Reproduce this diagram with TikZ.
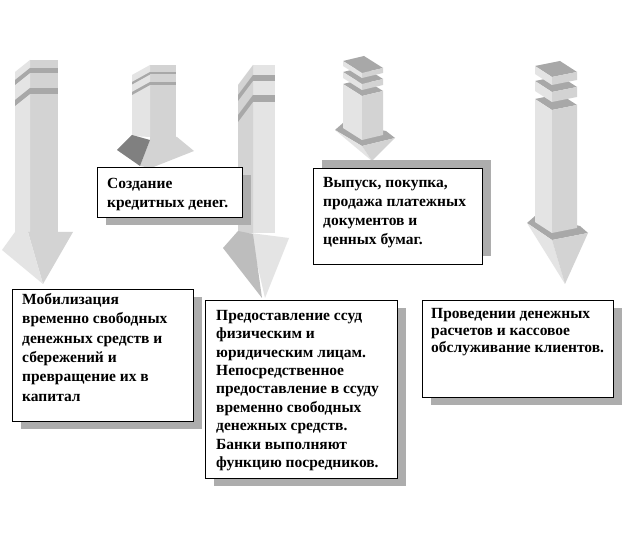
\documentclass[tikz,border=0pt]{standalone}
\usepackage{fontspec}
\setmainfont{Liberation Serif}
\usetikzlibrary{shadows}
\definecolor{aLight}{HTML}{E4E4E4}
\definecolor{aMid}{HTML}{D3D3D3}
\definecolor{aStripe}{HTML}{A8A8A8}
\definecolor{aDark}{HTML}{808080}
\definecolor{aHead}{HTML}{BDBDBD}
\definecolor{shcol}{HTML}{ADADAD}
\newcommand\mytier[7]{% L M R y h d1 d2
  \pgfmathsetmacro\tA{#4}\pgfmathsetmacro\tB{#4+#6}\pgfmathsetmacro\tC{#4+#6-#7}
  \pgfmathsetmacro\tD{#4-#7}\pgfmathsetmacro\tX{#1+#3-#2}
  \pgfmathsetmacro\tAh{#4+#5}\pgfmathsetmacro\tBh{#4+#6+#5}\pgfmathsetmacro\tCh{#4+#6-#7+#5}
  \fill[aStripe] (#1,\tA) -- (#2,\tB) -- (#3,\tC) -- (\tX,\tD) -- cycle;
  \fill[aLight] (#1,\tA) -- (#2,\tB) -- (#2,\tBh) -- (#1,\tAh) -- cycle;
  \fill[aMid] (#2,\tB) -- (#3,\tC) -- (#3,\tCh) -- (#2,\tBh) -- cycle;
}
\tikzset{
  boxsh/.style={draw, line width=1pt, fill=white, inner sep=0pt, anchor=north west,
    drop shadow={shadow xshift=8pt, shadow yshift=-8pt, fill=shcol, opacity=1}},
  boxup/.style={draw, line width=1pt, fill=white, inner sep=0pt, anchor=north west,
    drop shadow={shadow xshift=8pt, shadow yshift=8pt, fill=shcol, opacity=1}},
  txt/.style={inner sep=0pt, anchor=north west, align=left}
}
\begin{document}
\begin{tikzpicture}[x=1pt,y=-1pt]
\useasboundingbox[fill=white] (0,0) rectangle (625,540);
% ---------- arrow 1
\fill[aMid] (30,60) -- (58,60) -- (58,232) -- (30,232) -- cycle;
\fill[aLight] (15,72) -- (30,60) -- (30,232) -- (15,232) -- cycle;
\fill[aStripe] (30,68) rectangle (58,73);
\fill[aStripe] (30,88) rectangle (58,94);
\fill[aStripe] (15,80) -- (30,68) -- (30,73) -- (15,85) -- cycle;
\fill[aStripe] (15,100) -- (30,88) -- (30,94) -- (15,106) -- cycle;
\fill[aMid] (28,232) -- (73,232) -- (43,284) -- cycle;
\fill[aLight] (15,232) -- (28,232) -- (43,284) -- (2,250) -- cycle;
% ---------- arrow 2
\fill[aMid] (150,65) -- (176,65) -- (176,137) -- (150,137) -- cycle;
\fill[aLight] (132,75) -- (150,65) -- (150,137) -- (132,136) -- cycle;
\fill[aStripe] (150,72) rectangle (176,74.5);
\fill[aStripe] (150,82) rectangle (176,85);
\fill[aStripe] (132,82) -- (150,72) -- (150,74.5) -- (132,84.5) -- cycle;
\fill[aStripe] (132,92) -- (150,82) -- (150,85) -- (132,95) -- cycle;
\fill[aMid] (150,137) -- (177,137) -- (194,151) -- (151,168) -- (140,166) -- (150,140) -- cycle;
\fill[aDark] (132,135) -- (150,140) -- (140,166) -- (117,150) -- cycle;
% ---------- arrow 3
\fill[aLight] (253,65) -- (275,65) -- (275,233) -- (253,233) -- cycle;
\fill[aMid] (238,85) -- (253,65) -- (253,233) -- (238,233) -- cycle;
\fill[aStripe] (253,75) rectangle (275,81);
\fill[aStripe] (253,95) rectangle (275,102);
\fill[aStripe] (238,95) -- (253,75) -- (253,81) -- (238,101) -- cycle;
\fill[aStripe] (238,115) -- (253,95) -- (253,102) -- (238,122) -- cycle;
\fill[aLight] (250,233) -- (289,238) -- (265,298) -- cycle;
\fill[aHead] (238,231) -- (253,234) -- (262,298) -- (223,248) -- cycle;
% ---------- arrow 4
\fill[aStripe] (335,130) -- (362,146) -- (395,138) -- (386,131) -- (343,123) -- cycle;
\fill[aLight] (335,130) -- (362,146) -- (372,161) -- cycle;
\fill[aMid] (362,146) -- (395,138) -- (372,161) -- cycle;
\mytier{343}{362}{383}{84}{44}{12}{5}
\mytier{343}{362}{383}{72}{6}{12}{5}
\mytier{343}{362}{383}{61}{5}{12}{5}
% ---------- arrow 5
\fill[aStripe] (527,223) -- (552,240) -- (588,233) -- (580,226) -- (535,216) -- cycle;
\fill[aLight] (527,223) -- (552,240) -- (565,284) -- cycle;
\fill[aMid] (552,240) -- (588,233) -- (565,284) -- cycle;
\mytier{535}{552}{577}{99}{123}{11}{5}
\mytier{535}{552}{577}{81}{10}{11}{5}
\mytier{535}{552}{577}{66}{8}{11}{5}
% ---------- boxes
\node[boxsh, minimum width=145pt, minimum height=50pt] (b2) at (97,167) {};
\node[boxup, minimum width=169pt, minimum height=96pt] (b3) at (313,168) {};
\node[boxsh, minimum width=181pt, minimum height=132pt] (b1) at (12,289) {};
\node[boxsh, minimum width=192pt, minimum height=178pt] (b4) at (205,300) {};
\node[boxsh, minimum width=191pt, minimum height=97pt] (b5) at (422,300) {};
% ---------- texts
\node[txt, font=\fontsize{15.5}{19.4}\selectfont\bfseries] (t1) at (22,293)
  {Мобилизация\\временно свободных\\денежных средств и\\сбережений и\\превращение их в\\капитал};
\node[txt, font=\fontsize{15.5}{19}\selectfont\bfseries] (t2) at (107,178)
  {Создание\\кредитных денег.};
\node[txt, font=\fontsize{15.5}{19}\selectfont\bfseries] (t3) at (323,177)
  {Выпуск, покупка,\\продажа платежных\\документов и\\ценных бумаг.};
\node[txt, font=\fontsize{15.5}{18.4}\selectfont\bfseries] (t4) at (216,310)
  {Предоставление ссуд\\физическим и\\юридическим лицам.\\Непосредственное\\предоставление в ссуду\\временно свободных\\денежных средств.\\Банки выполняют\\функцию посредников.};
\node[txt, font=\fontsize{15.5}{17}\selectfont\bfseries] (t5) at (431,308)
  {Проведении денежных\\расчетов и кассовое\\обслуживание клиентов.};
\end{tikzpicture}
\end{document}
